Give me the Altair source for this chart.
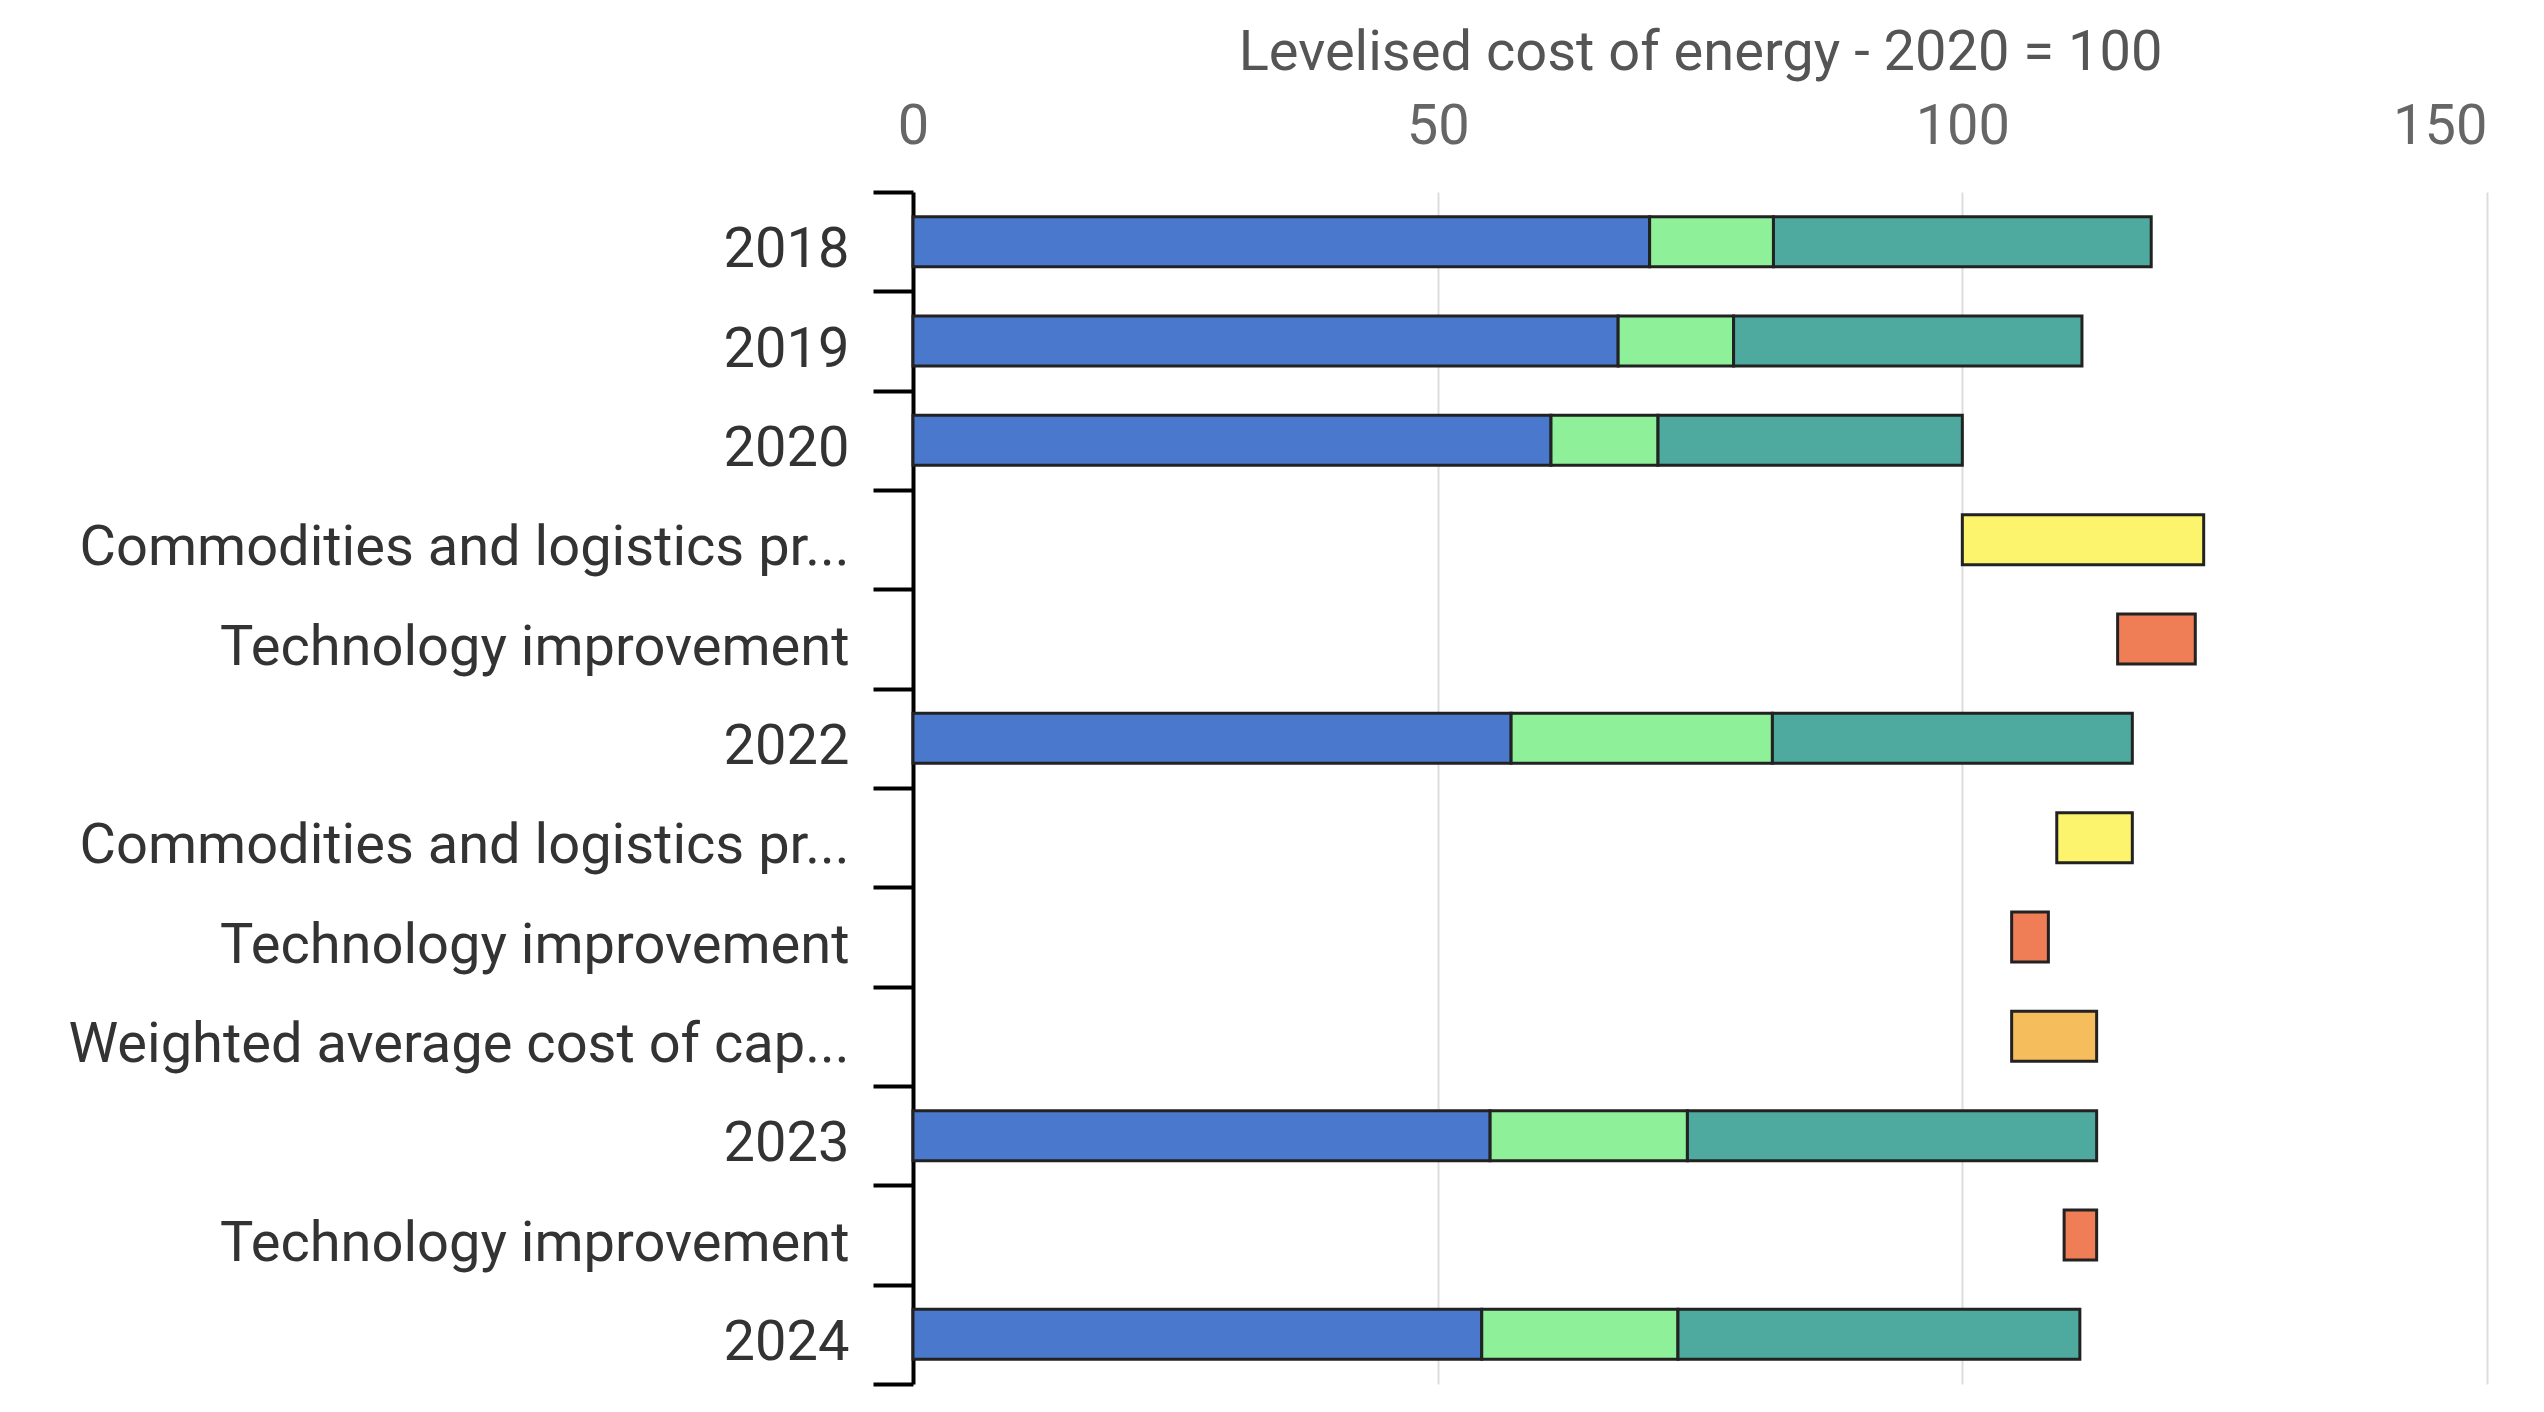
import altair as alt
import pandas as pd

# Row order (top to bottom) and the labels shown on the axis
row_labels = [
    "2018", "2019", "2020",
    "Commodities and logistics pr...", "Technology improvement",
    "2022",
    "Commodities and logistics pr...", "Technology improvement",
    "Weighted average cost of cap...",
    "2023",
    "Technology improvement",
    "2024",
]
row_kind = ["year", "year", "year", "comm", "tech", "year",
            "comm", "tech", "wacc", "year", "tech", "year"]

# Year bars: three stacked components (levelised cost, 2020 = 100)
comp_a = {0: 70.2, 1: 67.2, 2: 60.8, 5: 57.0, 9: 55.0, 11: 54.2}
comp_b = {0: 11.8, 1: 11.0, 2: 10.2, 5: 24.9, 9: 18.8, 11: 18.7}
comp_c = {0: 36.0, 1: 33.2, 2: 29.0, 5: 34.3, 9: 39.0, 11: 38.3}

# Floating (waterfall) bars: start and end values
step_start = {3: 100.0, 4: 114.8, 6: 109.0, 7: 104.7, 8: 104.7, 10: 109.7}
step_end = {3: 123.0, 4: 122.2, 6: 116.2, 7: 108.2, 8: 112.8, 10: 112.8}

segments = ["A", "B", "C", "comm", "tech", "wacc"]
seg_colors = ["#4a78cc", "#8ff09a", "#4eaa9e", "#fdf46e", "#ef7d55", "#f5bd5c"]

records = []
for i, kind in enumerate(row_kind):
    key = str(i)
    if kind == "year":
        s = 0.0
        for seg, vals in zip(["A", "B", "C"], [comp_a, comp_b, comp_c]):
            records.append({"key": key, "start": s, "end": s + vals[i], "seg": seg})
            s += vals[i]
    else:
        records.append({"key": key, "start": step_start[i], "end": step_end[i], "seg": kind})

df = pd.DataFrame(records)
keys = [str(i) for i in range(len(row_labels))]
label_array = "[" + ",".join("'" + l + "'" for l in row_labels) + "]"

FONT = "Roboto"
FS = 56

chart = alt.Chart(df).mark_bar(stroke="#222222", strokeWidth=3, size=50).encode(
    x=alt.X(
        "start:Q",
        scale=alt.Scale(domain=[0, 150], nice=False),
        axis=alt.Axis(
            orient="top",
            values=[0, 50, 100, 150],
            domain=False,
            ticks=False,
            tickSize=0,
            grid=True,
            gridColor="#dddddd",
            gridWidth=2,
            labelFont=FONT,
            labelFontSize=FS,
            labelColor="#666666",
            labelPadding=37,
            labelAlign={"expr": "datum.value === 150 ? 'right' : 'center'"},
            title="Levelised cost of energy - 2020 = 100",
            titleFont=FONT,
            titleFontSize=FS,
            titleFontWeight="normal",
            titleColor="#555555",
            titlePadding=11,
            minExtent=100,
            maxExtent=100,
        ),
    ),
    x2="end:Q",
    y=alt.Y(
        "key:N",
        sort=keys,
        scale=alt.Scale(paddingInner=0, paddingOuter=0),
        axis=alt.Axis(
            title=None,
            labelExpr=label_array + "[toNumber(datum.value)]",
            labelFont=FONT,
            labelFontSize=FS,
            labelColor="#333333",
            labelPadding=24,
            labelOffset=8,
            labelLimit=1200,
            domainColor="#000000",
            domainWidth=4,
            tickColor="#000000",
            tickWidth=4,
            tickSize=40,
            tickBand="extent",
            grid=False,
            minExtent=905,
            maxExtent=905,
        ),
    ),
    color=alt.Color("seg:N", scale=alt.Scale(domain=segments, range=seg_colors), legend=None),
).properties(
    width=1574,
    height=1192,
    padding={"left": 0, "top": 16, "right": 20, "bottom": 10},
).configure_view(stroke=None)

chart.save("out.html", embed_options={"renderer": "svg", "actions": False})
